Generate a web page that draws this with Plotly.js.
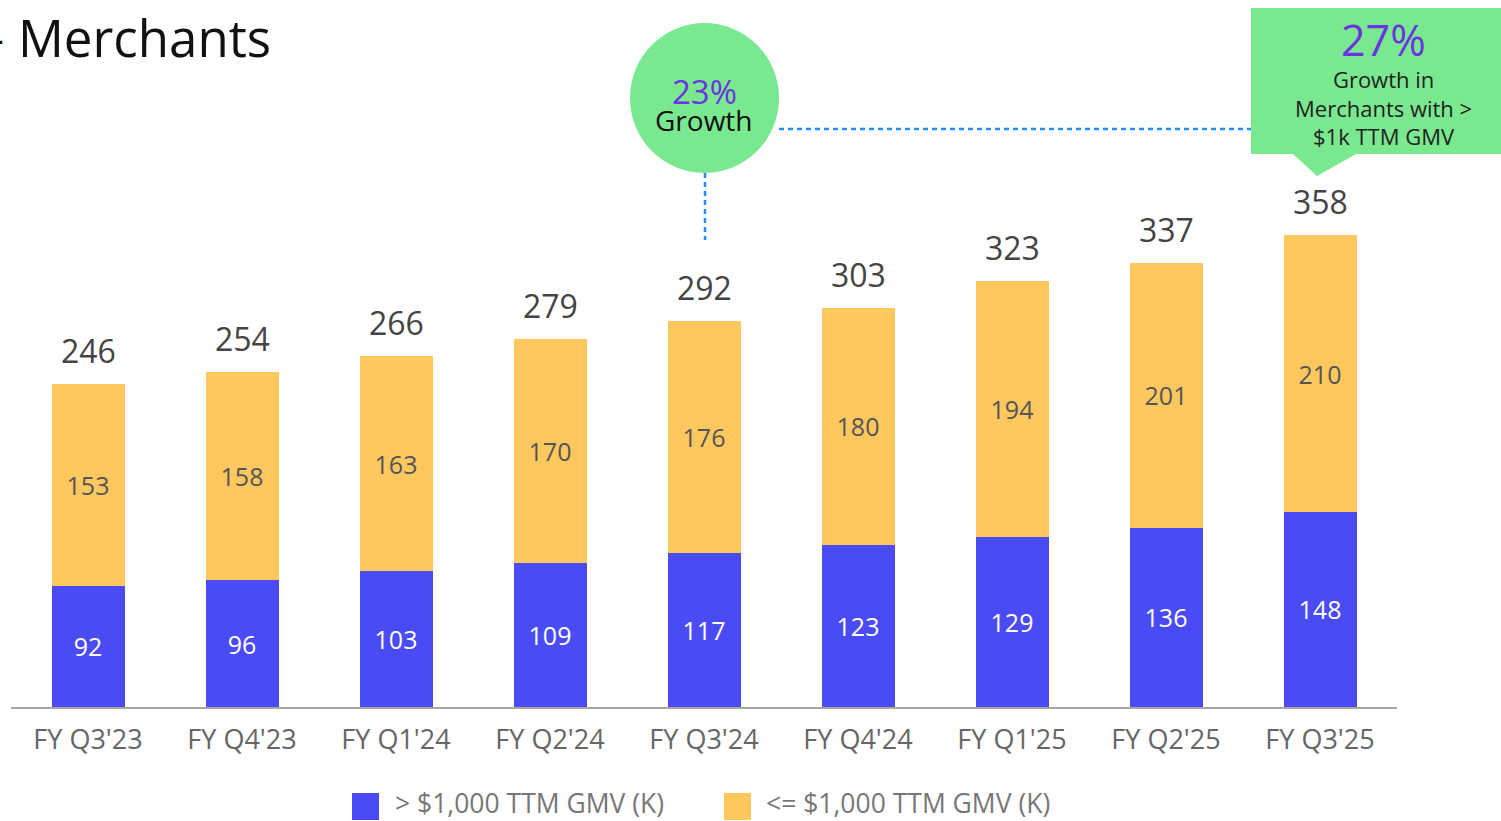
<!DOCTYPE html>
<html>
<head>
<meta charset="utf-8">
<script src="https://cdn.plot.ly/plotly-3.0.1.min.js"></script>
<style>html,body{margin:0;padding:0;background:#fff;}#chart{width:1501px;height:821px;}</style>
</head>
<body>
<div id="chart"></div>
<script>
const categories = ["FY Q3'23","FY Q4'23","FY Q1'24","FY Q2'24","FY Q3'24","FY Q4'24","FY Q1'25","FY Q2'25","FY Q3'25"];
const over1k = [92,96,103,109,117,123,129,136,148];
const under1k = [153,158,163,170,176,180,194,201,210];
const totals = [246,254,266,279,292,303,323,337,358];
const seriesNames = ["> $1,000 TTM GMV (K)", "<= $1,000 TTM GMV (K)"];
const titleText = "Merchants";
const growthAll = "23%";
const growthOver = "27%";
const growthOverLines = ["Growth in", "Merchants with >", "$1k TTM GMV"];

const FONT = "'Open Sans', 'DejaVu Sans', sans-serif";
const BLUE = "#4B4BF5", YELLOW = "#FFC85F", GREEN = "#7AE88F", PURPLE = "#6A35E0", DOT = "#1E90FF";

// plot area in pixels
const L = 11, R = 1397, T = 100, B = 707;
const X = px => (px - L) / (R - L);
const Y = py => (B - py) / (B - T);

const traces = [
  {type:'bar', x:categories, y:over1k, name:seriesNames[0], marker:{color:BLUE},
   text:over1k.map(String), textposition:'inside', insidetextanchor:'middle', textangle:0,
   constraintext:'none', insidetextfont:{color:'#ffffff', size:25, family:FONT}, hoverinfo:'skip'},
  {type:'bar', x:categories, y:under1k, name:seriesNames[1], marker:{color:YELLOW},
   text:under1k.map(String), textposition:'inside', insidetextanchor:'middle', textangle:0,
   constraintext:'none', insidetextfont:{color:'#555555', size:25, family:FONT}, hoverinfo:'skip'}
];

const annotations = totals.map((t,i)=>({
  x:categories[i], y:over1k[i]+under1k[i], xref:'x', yref:'y', text:String(t),
  showarrow:false, yanchor:'bottom', yshift:10, font:{size:32, color:'#444', family:FONT}
}));

function txt(px, py, text, size, color, anchor){
  return {xref:'paper', yref:'paper', x:X(px), y:Y(py), text:text, showarrow:false,
    xanchor:anchor||'center', yanchor:'middle', font:{size:size, color:color, family:FONT}};
}
annotations.push(txt(16, 37, titleText, 51, '#111', 'left'));
annotations.push(txt(6, 37, "–", 46, '#111', 'right'));
annotations.push(txt(704, 91, growthAll, 33, PURPLE));
annotations.push(txt(704, 120, "Growth", 28, '#111'));
annotations.push(txt(1383, 40, growthOver, 43, PURPLE));
annotations.push(txt(1383, 107, growthOverLines.join('<br>'), 22, '#222'));
annotations.push(txt(393, 803, seriesNames[0], 26.5, '#777', 'left'));
annotations.push(txt(764, 803, seriesNames[1], 26.5, '#777', 'left'));

const shapes = [
  {type:'line', xref:'paper', yref:'paper', x0:X(779), x1:X(1251), y0:Y(129), y1:Y(129),
   line:{color:DOT, width:2.5, dash:'5px,4px'}},
  {type:'line', xref:'paper', yref:'paper', x0:X(705), x1:X(705), y0:Y(173), y1:Y(240),
   line:{color:DOT, width:2.5, dash:'5px,4px'}},
  {type:'circle', xref:'paper', yref:'paper', x0:X(630), x1:X(779), y0:Y(173), y1:Y(23),
   fillcolor:GREEN, line:{width:0}, layer:'above'},
  {type:'rect', xref:'paper', yref:'paper', x0:X(1251), x1:X(1501), y0:Y(154), y1:Y(8),
   fillcolor:GREEN, line:{width:0}, layer:'above'},
  {type:'path', xref:'paper', yref:'paper',
   path:`M ${X(1292)} ${Y(153)} L ${X(1358)} ${Y(153)} L ${X(1317)} ${Y(176)} Z`,
   fillcolor:GREEN, line:{width:0}, layer:'above'},
  {type:'rect', xref:'paper', yref:'paper', x0:X(352), x1:X(379), y0:Y(820), y1:Y(793),
   fillcolor:BLUE, line:{width:0}},
  {type:'rect', xref:'paper', yref:'paper', x0:X(724), x1:X(751), y0:Y(820), y1:Y(793),
   fillcolor:YELLOW, line:{width:0}}
];

const layout = {
  width:1501, height:821, paper_bgcolor:'#fff', plot_bgcolor:'#fff',
  margin:{l:L, r:1501-R, t:T, b:821-B, pad:0},
  barmode:'stack', bargap:0.526, showlegend:false,
  font:{family:FONT},
  xaxis:{type:'category', range:[-0.5, 8.5], showgrid:false, zeroline:false,
    showline:true, linecolor:'#A6A6A6', linewidth:2, ticks:'', ticklabelstandoff:8,
    tickfont:{size:27, color:'#666', family:FONT}, fixedrange:true},
  yaxis:{range:[0, (B-T)/1.318], visible:false, showgrid:false, zeroline:false, fixedrange:true},
  annotations:annotations, shapes:shapes
};

Plotly.newPlot('chart', traces, layout, {displayModeBar:false, staticPlot:true});
</script>
</body>
</html>
